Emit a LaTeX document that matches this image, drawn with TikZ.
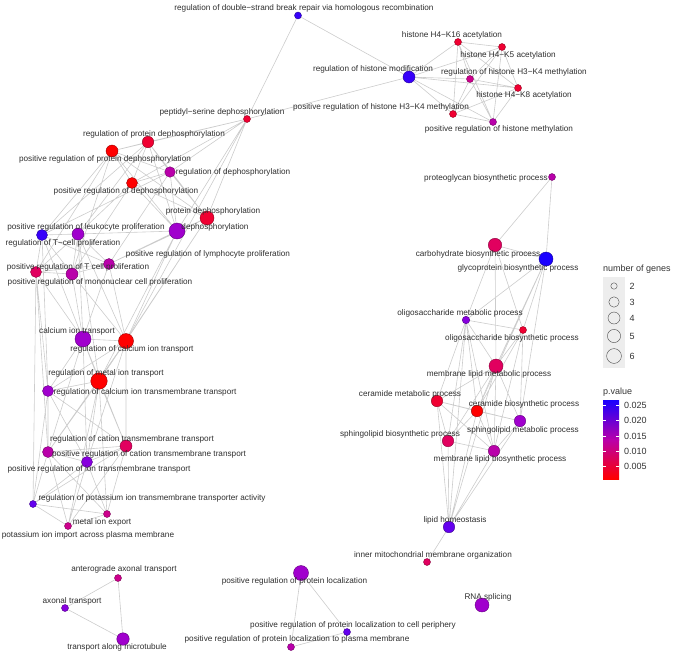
\documentclass[tikz,border=0pt]{standalone}
\usepackage{fontspec}
\setmainfont{Liberation Sans}
\usetikzlibrary{backgrounds}

% p.value shades, from red (low) to blue (high)
\definecolor{s0}{RGB}{255,0,0}
\definecolor{s1}{RGB}{240,0,50}
\definecolor{s2}{RGB}{225,0,95}
\definecolor{s3}{RGB}{205,0,140}
\definecolor{s4}{RGB}{185,0,170}
\definecolor{s5}{RGB}{160,0,205}
\definecolor{s6}{RGB}{135,0,222}
\definecolor{s7}{RGB}{100,0,238}
\definecolor{s8}{RGB}{55,0,250}
\definecolor{s9}{RGB}{25,0,255}

\begin{document}
\begin{tikzpicture}[x=1pt, y=-1pt,
    gene/.style 2 args={circle, inner sep=0pt, minimum size=#1, line width=0.4pt,
        fill=#2, draw=#2!60!black},
    term/.style={font=\fontsize{8.2}{9}\selectfont, text=black!82, inner sep=0pt},
    link/.style={black!20, line width=0.6pt},
    key/.style={font=\fontsize{9}{10}\selectfont, text=black!80, inner sep=0pt}]
    \useasboundingbox (0,0) rectangle (676,658);

    % Histone cluster
    \node[gene={7}{s8}] (dsb) at (298,15.5) {};
    \node[gene={7}{s1}] (k16) at (458,42) {};
    \node[gene={7}{s1}] (k5) at (502,47) {};
    \node[gene={12}{s8}] (rhm) at (409,77) {};
    \node[gene={7}{s3}] (h3r) at (470,79) {};
    \node[gene={7}{s1}] (k8) at (518,88) {};
    \node[gene={7}{s1}] (ph3) at (453,114) {};
    \node[gene={7}{s4}] (phm) at (493,122) {};

    % Dephosphorylation cluster
    \node[gene={7}{s1}] (pep) at (247,119) {};
    \node[gene={11.5}{s1}] (rpd) at (148,142) {};
    \node[gene={12}{s0}] (prpd) at (112,151) {};
    \node[gene={10.5}{s4}] (rd) at (170,172) {};
    \node[gene={11}{s0}] (prd) at (132,183) {};
    \node[gene={14}{s1}] (pd) at (207,218) {};
    \node[gene={16}{s5}] (dp) at (177,231) {};

    % Proliferation cluster
    \node[gene={11}{s8}] (prlk) at (42,235) {};
    \node[gene={12}{s5}] (rtc) at (78,234) {};
    \node[gene={11}{s4}] (prly) at (109,264) {};
    \node[gene={11}{s2}] (prtc) at (36,272) {};
    \node[gene={12}{s4}] (prmn) at (72,274) {};

    % Ion transport cluster
    \node[gene={16}{s5}] (cit) at (83,339) {};
    \node[gene={15}{s0}] (rcit) at (126,341) {};
    \node[gene={16.5}{s0}] (rmit) at (99,381) {};
    \node[gene={11}{s5}] (rcitm) at (48,391) {};
    \node[gene={12}{s2}] (rctm) at (126,446) {};
    \node[gene={11}{s4}] (prctm) at (48,452) {};
    \node[gene={11}{s6}] (pritm) at (87,462) {};
    \node[gene={7}{s7}] (rpot) at (33,504) {};
    \node[gene={7}{s3}] (mie) at (107,514) {};
    \node[gene={7}{s3}] (pot) at (68,526) {};

    % Glycan and lipid cluster
    \node[gene={7}{s4}] (pg) at (552,177) {};
    \node[gene={13.5}{s2}] (cb) at (495,245) {};
    \node[gene={14}{s9}] (gp) at (546,259) {};
    \node[gene={7.5}{s6}] (om) at (466,320) {};
    \node[gene={7}{s1}] (ob) at (523,330) {};
    \node[gene={14}{s2}] (mlm) at (496,366) {};
    \node[gene={11.5}{s1}] (cm) at (437,401) {};
    \node[gene={11.5}{s0}] (cbs) at (477,411) {};
    \node[gene={11.5}{s5}] (sm) at (520,421) {};
    \node[gene={11.5}{s2}] (sb) at (448,441) {};
    \node[gene={11.5}{s4}] (mlb) at (494,451) {};
    \node[gene={11.5}{s7}] (lh) at (449,527) {};
    \node[gene={7}{s2}] (imo) at (427,562) {};

    % Small groups at the bottom
    \node[gene={7}{s3}] (aat) at (118,578) {};
    \node[gene={7}{s6}] (at) at (65,608) {};
    \node[gene={12.5}{s5}] (tam) at (123,639) {};
    \node[gene={15}{s5}] (prpl) at (301,573) {};
    \node[gene={7}{s7}] (prcp) at (347,632) {};
    \node[gene={7}{s4}] (prpm) at (291,647) {};
    \node[gene={14}{s5}] (rna) at (482,605) {};

    % Connectors
    \begin{pgfonlayer}{background}
    \draw[link] (dsb) -- (pep) (dsb) -- (rhm) (rhm) -- (pep);
    \draw[link] (rhm) -- (k16) (rhm) -- (k5) (rhm) -- (h3r) (rhm) -- (k8) (rhm) -- (ph3) (rhm) -- (phm)
        (k16) -- (k5) (k16) -- (h3r) (k16) -- (k8) (k16) -- (ph3) (k16) -- (phm)
        (k5) -- (h3r) (k5) -- (k8) (k5) -- (ph3) (k5) -- (phm)
        (h3r) -- (k8) (h3r) -- (ph3) (h3r) -- (phm)
        (k8) -- (ph3) (k8) -- (phm) (ph3) -- (phm);
    \draw[link] (pep) -- (rpd) (pep) -- (prpd) (pep) -- (rd) (pep) -- (prd) (pep) -- (pd) (pep) -- (dp) (pep) -- (rcit)
        (rpd) -- (prpd) (rpd) -- (rd) (rpd) -- (prd) (rpd) -- (pd) (rpd) -- (dp)
        (prpd) -- (rd) (prpd) -- (prd) (prpd) -- (pd) (prpd) -- (dp)
        (rd) -- (prd) (rd) -- (pd) (rd) -- (dp) (prd) -- (pd) (prd) -- (dp) (pd) -- (dp);
    \draw[link] (prlk) -- (rtc) (prlk) -- (prly) (prlk) -- (prtc) (prlk) -- (prmn)
        (rtc) -- (prly) (rtc) -- (prtc) (rtc) -- (prmn) (prly) -- (prtc) (prly) -- (prmn) (prtc) -- (prmn);
    \draw[link] (rpd) -- (prlk) (rpd) -- (rtc) (prpd) -- (prlk) (prpd) -- (prtc) (prpd) -- (prmn)
        (prd) -- (rtc) (prd) -- (prmn) (rd) -- (prly) (rd) -- (prlk) (dp) -- (prly) (pd) -- (prly) (dp) -- (rtc);
    \draw[link] (prlk) -- (cit) (rtc) -- (cit) (prtc) -- (cit) (prmn) -- (cit) (prly) -- (cit) (prly) -- (rcit)
        (prmn) -- (rcit) (rtc) -- (rmit) (prlk) -- (rcitm) (prtc) -- (rcitm) (prtc) -- (prctm) (rtc) -- (rcit)
        (prtc) -- (rpot) (pd) -- (rcit) (dp) -- (rmit) (pd) -- (rmit) (dp) -- (rcit);
    \draw[link] (cit) -- (rcit) (cit) -- (rmit) (cit) -- (rcitm) (cit) -- (rctm) (cit) -- (prctm) (cit) -- (pritm)
        (rcit) -- (rmit) (rcit) -- (rcitm) (rcit) -- (rctm) (rcit) -- (prctm) (rcit) -- (pritm)
        (rmit) -- (rcitm) (rmit) -- (rctm) (rmit) -- (prctm) (rmit) -- (pritm) (rmit) -- (mie) (rmit) -- (pot)
        (rcitm) -- (rctm) (rcitm) -- (prctm) (rcitm) -- (pritm) (rcitm) -- (rpot)
        (rctm) -- (prctm) (rctm) -- (pritm) (rctm) -- (rpot) (rctm) -- (mie) (rctm) -- (pot)
        (prctm) -- (pritm) (prctm) -- (rpot) (prctm) -- (mie) (prctm) -- (pot)
        (pritm) -- (rpot) (pritm) -- (mie) (pritm) -- (pot) (rpot) -- (mie) (rpot) -- (pot) (mie) -- (pot);
    \draw[link] (pg) -- (cb) (pg) -- (gp) (cb) -- (gp) (cb) -- (om) (cb) -- (ob) (cb) -- (mlm)
        (gp) -- (om) (gp) -- (ob) (gp) -- (mlm) (gp) -- (sm) (gp) -- (cbs);
    \draw[link] (om) -- (ob) (om) -- (mlm) (om) -- (cm) (om) -- (cbs) (om) -- (sb) (om) -- (mlb) (om) -- (lh)
        (ob) -- (mlm) (ob) -- (cbs) (ob) -- (sm) (ob) -- (mlb)
        (mlm) -- (cm) (mlm) -- (cbs) (mlm) -- (sm) (mlm) -- (sb) (mlm) -- (mlb) (mlm) -- (lh)
        (cm) -- (cbs) (cm) -- (sm) (cm) -- (sb) (cm) -- (mlb) (cm) -- (lh)
        (cbs) -- (sm) (cbs) -- (sb) (cbs) -- (mlb) (cbs) -- (lh)
        (sm) -- (mlb) (sm) -- (lh) (sb) -- (mlb) (sb) -- (lh) (mlb) -- (lh) (lh) -- (imo);
    \draw[link] (aat) -- (at) (aat) -- (tam) (at) -- (tam) (prpl) -- (prcp) (prpl) -- (prpm) (prcp) -- (prpm);
    \end{pgfonlayer}

    % Term names
    \node[term] (dsb-t) at (304,8.4) {regulation of double−strand break repair via homologous recombination};
    \node[term] (k16-t) at (452,35.7) {histone H4−K16 acetylation};
    \node[term] (k5-t) at (508,55) {histone H4−K5 acetylation};
    \node[term] (rhm-t) at (373,69.5) {regulation of histone modification};
    \node[term] (h3r-t) at (514,72) {regulation of histone H3−K4 methylation};
    \node[term] (k8-t) at (524,95) {histone H4−K8 acetylation};
    \node[term] (ph3-t) at (381,107) {positive regulation of histone H3−K4 methylation};
    \node[term] (phm-t) at (499,129.5) {positive regulation of histone methylation};
    \node[term] (pep-t) at (222,112) {peptidyl−serine dephosphorylation};
    \node[term] (rpd-t) at (154,134) {regulation of protein dephosphorylation};
    \node[term] (prpd-t) at (105,159) {positive regulation of protein dephosphorylation};
    \node[term] (rd-t) at (233,172) {regulation of dephosphorylation};
    \node[term] (prd-t) at (126,191) {positive regulation of dephosphorylation};
    \node[term] (pd-t) at (213,211) {protein dephosphorylation};
    \node[term] (dp-t) at (215,227) {dephosphorylation};
    \node[term] (prlk-t) at (86,227) {positive regulation of leukocyte proliferation};
    \node[term] (rtc-t) at (63,243) {regulation of T−cell proliferation};
    \node[term] (prly-t) at (208,254) {positive regulation of lymphocyte proliferation};
    \node[term] (prtc-t) at (78,267) {positive regulation of T cell proliferation};
    \node[term] (prmn-t) at (100,282) {positive regulation of mononuclear cell proliferation};
    \node[term] (cit-t) at (77,331) {calcium ion transport};
    \node[term] (rcit-t) at (132,349) {regulation of calcium ion transport};
    \node[term] (rmit-t) at (106,373) {regulation of metal ion transport};
    \node[term] (rcitm-t) at (145,392) {regulation of calcium ion transmembrane transport};
    \node[term] (rctm-t) at (132,439) {regulation of cation transmembrane transport};
    \node[term] (prctm-t) at (149,454) {positive regulation of cation transmembrane transport};
    \node[term] (pritm-t) at (99,469) {positive regulation of ion transmembrane transport};
    \node[term] (rpot-t) at (152,498) {regulation of potassium ion transmembrane transporter activity};
    \node[term] (mie-t) at (102,522) {metal ion export};
    \node[term] (pot-t) at (88,535) {potassium ion import across plasma membrane};
    \node[term] (pg-t) at (486,178) {proteoglycan biosynthetic process};
    \node[term] (cb-t) at (478,254) {carbohydrate biosynthetic process};
    \node[term] (gp-t) at (518,268) {glycoprotein biosynthetic process};
    \node[term] (om-t) at (460,313) {oligosaccharide metabolic process};
    \node[term] (ob-t) at (512,338) {oligosaccharide biosynthetic process};
    \node[term] (mlm-t) at (489,374) {membrane lipid metabolic process};
    \node[term] (cm-t) at (410,394) {ceramide metabolic process};
    \node[term] (cbs-t) at (524,404.5) {ceramide biosynthetic process};
    \node[term] (sm-t) at (523,430) {sphingolipid metabolic process};
    \node[term] (sb-t) at (400,434) {sphingolipid biosynthetic process};
    \node[term] (mlb-t) at (500,459) {membrane lipid biosynthetic process};
    \node[term] (lh-t) at (455,520) {lipid homeostasis};
    \node[term] (imo-t) at (433,555) {inner mitochondrial membrane organization};
    \node[term] (aat-t) at (124,569.5) {anterograde axonal transport};
    \node[term] (at-t) at (72,601) {axonal transport};
    \node[term] (tam-t) at (117,647.5) {transport along microtubule};
    \node[term] (prpl-t) at (294.5,581) {positive regulation of protein localization};
    \node[term] (prcp-t) at (353,625) {positive regulation of protein localization to cell periphery};
    \node[term] (prpm-t) at (297,639) {positive regulation of protein localization to plasma membrane};
    \node[term] (rna-t) at (488,597) {RNA splicing};

    % Legend: number of genes
    \fill[black!7] (603,277) rectangle (625,368);
    \node[key, anchor=west] (ng) at (603,269) {number of genes};
    \node[circle, draw=black!70, inner sep=0pt, minimum size=6.4] (g2) at (614,286) {};
    \node[circle, draw=black!70, inner sep=0pt, minimum size=10.4] (g3) at (614,302) {};
    \node[circle, draw=black!70, inner sep=0pt, minimum size=12] (g4) at (614,318) {};
    \node[circle, draw=black!70, inner sep=0pt, minimum size=13.2] (g5) at (614,336) {};
    \node[circle, draw=black!70, inner sep=0pt, minimum size=14.8] (g6) at (614,356) {};
    \node[key] (g2-t) at (632,286) {2};
    \node[key] (g3-t) at (632,302) {3};
    \node[key] (g4-t) at (632,318) {4};
    \node[key] (g5-t) at (632,336) {5};
    \node[key] (g6-t) at (632,356) {6};

    % Legend: p.value
    \node[key, anchor=west] (pv) at (603,392) {p.value};
    \shade[bottom color=s4, top color=s9] (603,400) rectangle (619,440);
    \shade[bottom color=s0, top color=s4] (603,439.5) rectangle (619,479);
    \draw[white, line width=0.5pt] (603,405) -- (606,405) (616,405) -- (619,405)
        (603,420) -- (606,420) (616,420) -- (619,420) (603,436) -- (606,436) (616,436) -- (619,436)
        (603,451) -- (606,451) (616,451) -- (619,451) (603,466) -- (606,466) (616,466) -- (619,466);
    \node[key, anchor=west] (pv1) at (624,405) {0.025};
    \node[key, anchor=west] (pv2) at (624,420) {0.020};
    \node[key, anchor=west] (pv3) at (624,436) {0.015};
    \node[key, anchor=west] (pv4) at (624,451) {0.010};
    \node[key, anchor=west] (pv5) at (624,466) {0.005};
\end{tikzpicture}
\end{document}
